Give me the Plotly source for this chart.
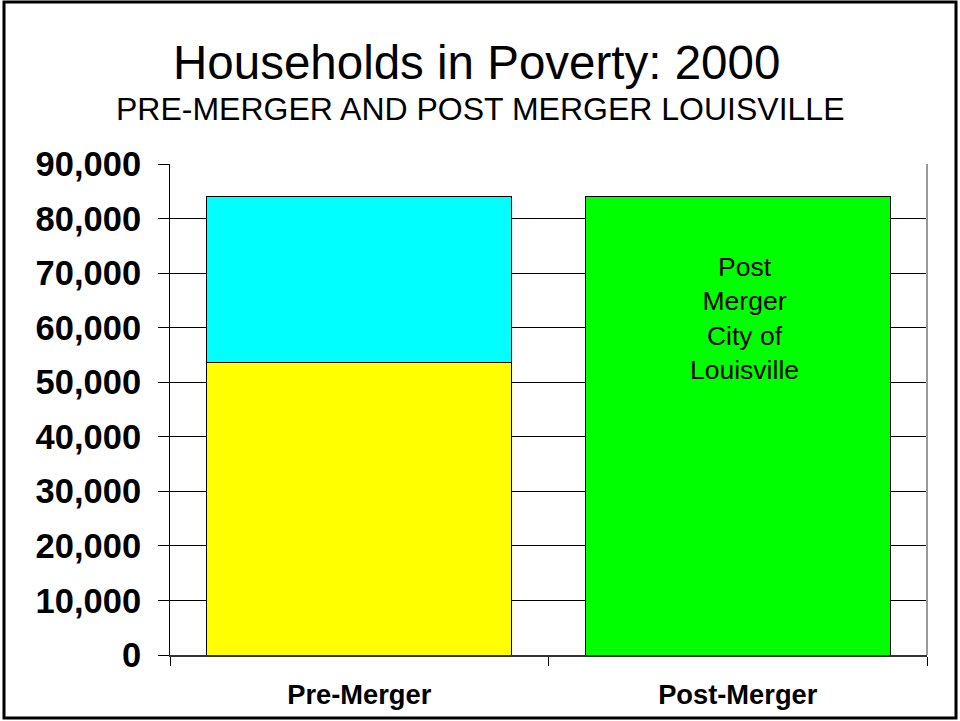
import plotly.graph_objects as go

# Haushalte in Armut, 2000
categories = ["Pre-Merger", "Post-Merger"]
pre_city = [53700, None]        # gelb: alte Stadt Louisville
pre_rest = [30300, None]        # cyan: Rest, der durch die Fusion hinzukam
post_city = [None, 84000]       # grün: Stadt nach der Fusion
y_ticks = list(range(0, 90001, 10000))
bar_note = "Post<br>Merger<br>City of<br>Louisville"

W, H = 960, 721
L, R, T, B = 170, 33, 164, 66
pw, ph = W - L - R, H - T - B


def px_x(x):
    # Pixel (von links) -> paper-Koordinate
    return (x - L) / pw


def px_y(y):
    # Pixel (von oben) -> paper-Koordinate
    return (H - B - y) / ph


line_style = dict(color="#000000", width=1)

fig = go.Figure()
fig.add_trace(go.Bar(x=categories, y=pre_city, marker=dict(color="#FFFF00", line=line_style),
                     name="Pre-Merger City", showlegend=False))
fig.add_trace(go.Bar(x=categories, y=pre_rest, marker=dict(color="#00FFFF", line=line_style),
                     name="Rest", showlegend=False))
fig.add_trace(go.Bar(x=categories, y=post_city, marker=dict(color="#00FF00", line=line_style),
                     name="Post-Merger City", showlegend=False))

fig.add_annotation(x="Post-Merger", y=61700, text=bar_note, showarrow=False, xshift=7,
                   font=dict(family="Arial", size=26.5, color="black"), align="center")

# Titel
fig.add_annotation(text="Households in Poverty: 2000", xref="paper", yref="paper",
                   x=px_x(W / 2 - 4), y=px_y(62), xanchor="center", yanchor="middle",
                   showarrow=False, font=dict(family="Arial", size=47.5, color="black"))
fig.add_annotation(text="PRE-MERGER AND POST MERGER LOUISVILLE", xref="paper", yref="paper",
                   x=px_x(W / 2), y=px_y(109), xanchor="center", yanchor="middle",
                   showarrow=False, font=dict(family="Arial", size=32, color="black"))

# Rahmen um das ganze Bild
fig.add_shape(type="rect", xref="paper", yref="paper",
              x0=px_x(4), x1=px_x(W - 4), y0=px_y(H - 3), y1=px_y(2),
              line=dict(color="black", width=3), layer="below")
# rechte Kante der Zeichenfläche
fig.add_shape(type="line", xref="paper", yref="paper", x0=1, x1=1, y0=0, y1=1,
              line=dict(color="#999999", width=2))

fig.update_layout(
    barmode="stack",
    bargap=0.195,
    width=W, height=H,
    margin=dict(l=L, r=R, t=T, b=B),
    paper_bgcolor="white",
    plot_bgcolor="white",
    font=dict(family="Arial", color="black"),
)
fig.update_xaxes(
    showline=True, linecolor="#333333", linewidth=2,
    ticks="outside", tickson="boundaries", ticklen=9, tickcolor="black",
    tickfont=dict(family="Arial", size=27.3, color="black", weight="bold"),
    ticklabelstandoff=14,
    showgrid=False,
)
fig.update_yaxes(
    range=[0, 90000], tickvals=y_ticks, tickformat=",d",
    showline=True, linecolor="black", linewidth=1,
    ticks="outside", ticklen=11, tickcolor="black",
    showgrid=True, gridcolor="black", gridwidth=1,
    tickfont=dict(family="Arial", size=34.5, color="black", weight="bold"),
    ticklabelstandoff=10,
    zeroline=False,
)

fig.write_html("out.html", config={"displayModeBar": False},
               post_script="document.body.style.margin='0';")
